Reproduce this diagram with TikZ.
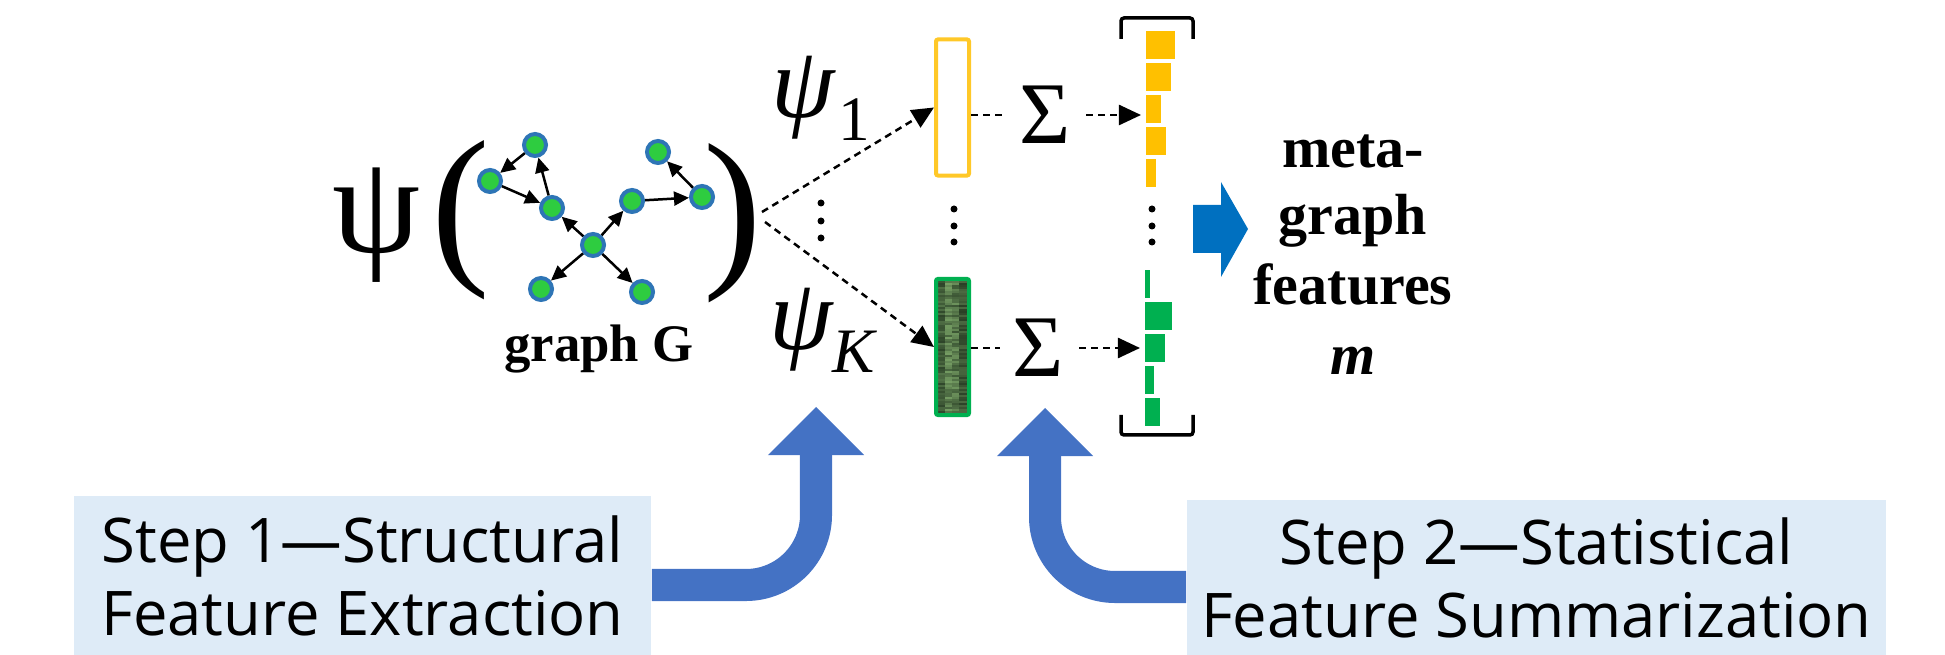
\documentclass[tikz,border=0pt]{standalone}
\usepackage{fontspec}
\usetikzlibrary{arrows.meta,calc}
\newfontfamily\grkfont{Liberation Serif}
\newfontfamily\stepfont{Open Sans}
\definecolor{ngreen}{RGB}{46,204,64}
\definecolor{nblue}{RGB}{46,117,182}
\definecolor{stepfill}{RGB}{222,235,247}
\definecolor{curveblue}{RGB}{68,114,196}
\definecolor{blockblue}{RGB}{0,112,192}
\definecolor{ybar}{RGB}{255,192,0}
\definecolor{ybox}{RGB}{255,200,40}
\definecolor{gbar}{RGB}{0,176,80}
\definecolor{gdark}{RGB}{42,64,38}
\definecolor{glight}{RGB}{128,170,108}
\begin{document}
\begin{tikzpicture}[x=0.01cm,y=-0.01cm,
  gnode/.style={circle, fill=ngreen, draw=nblue, line width=0.04cm, minimum size=0.22cm, inner sep=0},
  gedge/.style={-{Triangle[length=0.15cm,width=0.14cm]}, line width=0.025cm},
  dasharrow/.style={dash pattern=on 0.07cm off 0.05cm, line width=0.025cm, -{Triangle[length=0.22cm,width=0.2cm]}},
  dashline/.style={dash pattern=on 0.07cm off 0.05cm, line width=0.025cm},
  bigarrow/.style={draw=curveblue, line width=0.32cm, rounded corners=0.7cm, -{Triangle[length=0.48cm,width=0.96cm,line width=0pt]}},
  stepbox/.style={fill=stepfill, inner sep=0, align=center, font=\stepfont\fontsize{17.5}{20.8}\selectfont},
  featbox/.style={draw=#1, line width=0.04cm, rounded corners=0.02cm, minimum width=0.33cm, minimum height=1.36cm, inner sep=0},
  barnode/.style={fill=#1, inner sep=0, minimum height=0.28cm, anchor=north west},
  metatext/.style={inner sep=0, anchor=base, font=\grkfont\bfseries\fontsize{16.5}{20}\selectfont},
  psitext/.style={inner sep=0, font=\grkfont\fontsize{29}{34}\selectfont},
  sumtext/.style={inner sep=0, font=\grkfont\fontsize{25}{30}\selectfont},
  dotc/.style={fill=black}
]
\useasboundingbox (0,0) rectangle (1945,655);

% psi ( graph )
\node[inner sep=0, font=\grkfont\fontsize{40}{48}\selectfont] (psi) at (377,225) {ψ};
\node[inner sep=0, font=\grkfont\fontsize{50}{60}\selectfont] (lp) at (461,220) {(};
\node[inner sep=0, font=\grkfont\fontsize{50}{60}\selectfont] (rp) at (733,223) {)};

% graph
\node[gnode] (n1) at (535,145) {};
\node[gnode] (n2) at (490,181) {};
\node[gnode] (n3) at (552,208) {};
\node[gnode] (n4) at (593,245) {};
\node[gnode] (n5) at (541,289) {};
\node[gnode] (n6) at (642,292) {};
\node[gnode] (n7) at (632,201) {};
\node[gnode] (n8) at (702,197) {};
\node[gnode] (n9) at (658,152) {};
\draw[gedge] (n1) -- (n2);
\draw[gedge] (n2) -- (n3);
\draw[gedge] (n3) -- (n1);
\draw[gedge] (n4) -- (n3);
\draw[gedge] (n4) -- (n7);
\draw[gedge] (n7) -- (n8);
\draw[gedge] (n8) -- (n9);
\draw[gedge] (n4) -- (n5);
\draw[gedge] (n4) -- (n6);
\node[inner sep=0, anchor=base, font=\grkfont\bfseries\fontsize{15}{18}\selectfont] (gG) at (599,362) {graph G};

% psi_1, psi_K
\node[psitext] (p1) at (821,98) {\itshape ψ\kern1pt\raisebox{-6.5pt}{\upshape\fontsize{18}{18}\selectfont 1}};
\node[psitext] (pk) at (822,330) {\itshape ψ\raisebox{-6.5pt}{\fontsize{18}{18}\selectfont K}};

% textured green vector
\fill[gdark] (938,281) rectangle (967,413);
\pgfmathsetseed{12}
\foreach \j in {0,...,65}{
  \foreach \xa/\xb/\lo/\m in {938/945/5/45, 945/952/25/65, 952/959/20/60, 959/967/0/40}{
    \pgfmathtruncatemacro\p{\lo+rnd*\m}
    \fill[glight!\p!gdark] (\xa,281+2*\j) rectangle (\xb,283+2*\j);
  }
}

% feature vectors
\node[featbox=ybox] (y1) at (952.5,107.5) {};
\node[featbox=gbar] (gk) at (952.5,347) {};

% graph -> vectors
\coordinate (o1) at (762,212);
\coordinate (o2) at (765,222);
\draw[dasharrow] (o1) -- (y1.west);
\draw[dasharrow] (o2) -- (gk.west);

% vertical dots
\foreach \x/\y in {821/203, 821/221, 821/238, 954/209, 954/226, 954/242, 1152/209, 1152/226, 1152/242}
  \fill[dotc] (\x,\y) circle[radius=0.035cm];

% sums
\node[sumtext] (s1) at (1045,115) {Σ};
\node[sumtext] (s2) at (1038,348) {Σ};

% bars
\foreach \i/\y/\w in {1/30/29, 2/62/25, 3/94/15, 4/126/20, 5/158/10}
  \node[barnode=ybar, minimum width=\w*0.01cm] (yb\i) at (1145,\y) {};
\foreach \i/\y/\w in {1/269/5, 2/301/27, 3/333/20, 4/365/9, 5/397/15}
  \node[barnode=gbar, minimum width=\w*0.01cm] (gb\i) at (1144,\y) {};

\draw[dashline, shorten >=0.12cm] (y1.east |- s1.west) -- (s1.west);
\draw[dasharrow, shorten <=0.15cm, shorten >=0.04cm] (s1.east) -- (s1.east -| yb3.west);
\draw[dashline, shorten >=0.12cm] (gk.east |- s2.west) -- (s2.west);
\draw[dasharrow, shorten <=0.15cm, shorten >=0.04cm] (s2.east) -- (s2.east -| gb3.west);

% bracket
\draw[line width=0.035cm, rounded corners=0.03cm] (1121,39) -- (1121,18) -- (1193,18) -- (1193,39);
\draw[line width=0.035cm, rounded corners=0.03cm] (1121,415) -- (1121,435) -- (1193,435) -- (1193,415);

% block arrow
\fill[blockblue] (1193,205) -- (1221,205) -- (1221,182) -- (1248,229) -- (1221,277) -- (1221,253) -- (1193,253) -- cycle;

% meta-graph features m
\node[metatext] (m1) at (1353,168) {meta-};
\node[metatext] (m2) at (1353,235) {graph};
\node[metatext] (m3) at (1353,305) {features};
\node[metatext, font=\grkfont\bfseries\itshape\fontsize{16.5}{20}\selectfont] (m4) at (1353,375) {m};

% step boxes
\node[stepbox, minimum width=5.77cm, minimum height=1.59cm] (b1) at (362.5,575.5) {Step 1—Structural\\Feature Extraction};
\node[stepbox, minimum width=6.99cm, minimum height=1.55cm] (b2) at (1536.5,577.5) {Step 2—Statistical\\Feature Summarization};

\coordinate (t1) at (816,407);
\coordinate (t2) at (1045,408);
\draw[bigarrow] ([yshift=-0.095cm]b1.east) -| (t1);
\draw[bigarrow] ([yshift=-0.095cm]b2.west) -| (t2);
\end{tikzpicture}
\end{document}
